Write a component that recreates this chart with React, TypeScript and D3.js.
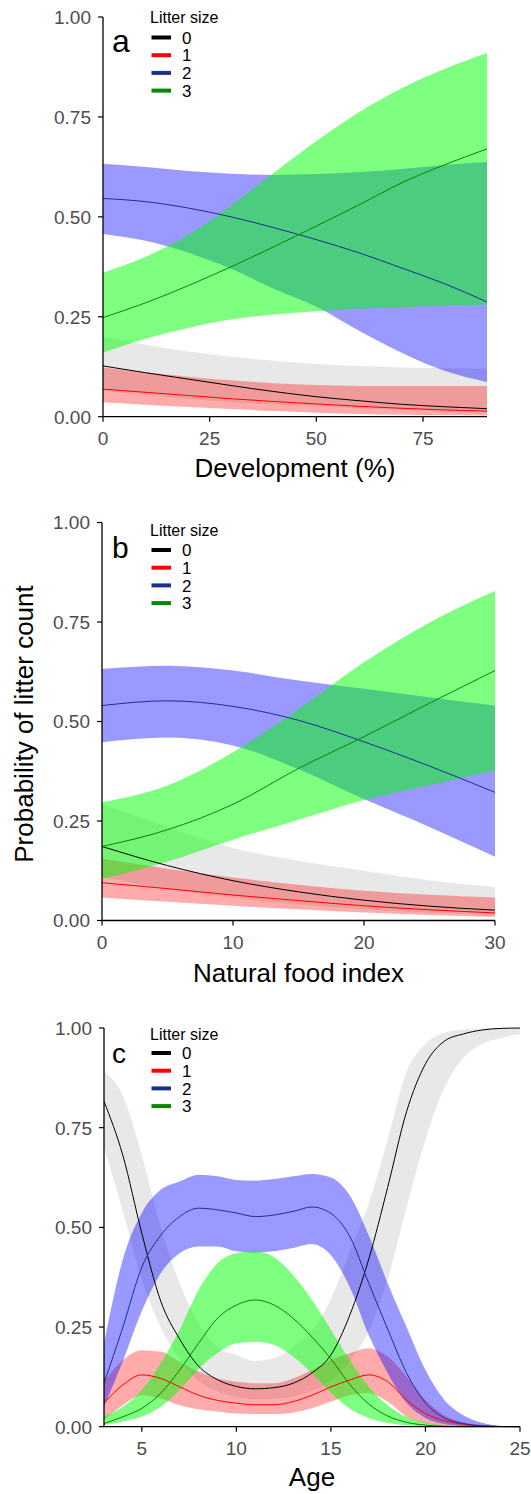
import * as d3 from 'd3'

// ---- data ----
const sizeLabels = ['0', '1', '2', '3']
const yTickValues = [0, 0.25, 0.5, 0.75, 1]

// panel a: development (%)
const devX = [0, 10, 20, 30, 40, 50, 60, 70, 80, 90]
const devFit0 = [0.127, 0.11, 0.094, 0.078, 0.063, 0.05, 0.04, 0.031, 0.025, 0.02]
const devLo0 = [0.065, 0.055, 0.045, 0.037, 0.031, 0.026, 0.021, 0.017, 0.013, 0.01]
const devHi0 = [0.2, 0.18, 0.163, 0.15, 0.14, 0.132, 0.127, 0.123, 0.121, 0.12]
const devFit1 = [0.069, 0.061, 0.053, 0.045, 0.038, 0.032, 0.026, 0.021, 0.017, 0.014]
const devLo1 = [0.036, 0.03, 0.024, 0.019, 0.014, 0.01, 0.007, 0.005, 0.004, 0.003]
const devHi1 = [0.123, 0.111, 0.1, 0.091, 0.084, 0.079, 0.077, 0.077, 0.077, 0.077]
const devFit2 = [0.546, 0.538, 0.522, 0.5, 0.473, 0.443, 0.41, 0.372, 0.333, 0.287]
const devLo2 = [0.457, 0.44, 0.41, 0.37, 0.32, 0.275, 0.215, 0.16, 0.115, 0.087]
const devHi2 = [0.633, 0.625, 0.615, 0.608, 0.605, 0.607, 0.612, 0.62, 0.63, 0.637]
const devFit3 = [0.248, 0.285, 0.328, 0.375, 0.425, 0.477, 0.53, 0.585, 0.63, 0.67]
const devLo3 = [0.16, 0.195, 0.222, 0.243, 0.256, 0.264, 0.27, 0.274, 0.278, 0.28]
const devHi3 = [0.36, 0.4, 0.455, 0.528, 0.61, 0.69, 0.762, 0.822, 0.87, 0.91]

// panel b: natural food index
const foodX = [0, 5, 10, 15, 20, 25, 30]
const foodFit0 = [0.186, 0.138, 0.1, 0.072, 0.051, 0.036, 0.026]
const foodLo0 = [0.11, 0.08, 0.057, 0.04, 0.028, 0.02, 0.014]
const foodHi0 = [0.293, 0.235, 0.182, 0.15, 0.125, 0.101, 0.084]
const foodFit1 = [0.095, 0.08, 0.064, 0.05, 0.037, 0.027, 0.019]
const foodLo1 = [0.058, 0.047, 0.037, 0.028, 0.02, 0.014, 0.009]
const foodHi1 = [0.155, 0.13, 0.108, 0.09, 0.075, 0.065, 0.058]
const foodFit2 = [0.54, 0.552, 0.538, 0.503, 0.449, 0.388, 0.322]
const foodLo2 = [0.448, 0.46, 0.44, 0.38, 0.305, 0.235, 0.16]
const foodHi2 = [0.632, 0.64, 0.628, 0.603, 0.582, 0.561, 0.54]
const foodFit3 = [0.186, 0.228, 0.292, 0.382, 0.462, 0.546, 0.628]
const foodLo3 = [0.104, 0.148, 0.203, 0.253, 0.303, 0.34, 0.377]
const foodHi3 = [0.297, 0.339, 0.423, 0.531, 0.649, 0.749, 0.828]

// panel c: age
const ageX = [3, 4, 5, 6, 7, 8, 9, 10, 11, 12, 13, 14, 15, 16, 17, 18, 19, 20, 21, 22, 23, 24, 25]
const ageFit0 = [0.816, 0.68, 0.485, 0.315, 0.22, 0.152, 0.118, 0.101, 0.095, 0.098, 0.109, 0.135, 0.18, 0.28, 0.42, 0.6, 0.79, 0.91, 0.967, 0.985, 0.995, 0.999, 1]
const ageLo0 = [0.7, 0.54, 0.37, 0.25, 0.17, 0.115, 0.088, 0.074, 0.068, 0.07, 0.076, 0.09, 0.115, 0.165, 0.24, 0.37, 0.55, 0.72, 0.85, 0.925, 0.96, 0.975, 0.985]
const ageHi0 = [0.89, 0.83, 0.68, 0.5, 0.36, 0.26, 0.2, 0.18, 0.165, 0.172, 0.2, 0.24, 0.32, 0.44, 0.56, 0.72, 0.89, 0.96, 0.988, 0.996, 0.999, 1, 1]
const ageFit1 = [0.059, 0.105, 0.13, 0.121, 0.1, 0.079, 0.066, 0.059, 0.055, 0.055, 0.063, 0.079, 0.1, 0.117, 0.13, 0.113, 0.067, 0.033, 0.015, 0.006, 0.002, 0.0005, 0]
const ageLo1 = [0.017, 0.054, 0.079, 0.071, 0.054, 0.044, 0.038, 0.033, 0.032, 0.032, 0.035, 0.046, 0.063, 0.079, 0.084, 0.063, 0.025, 0.008, 0.002, 0, 0, 0, 0]
const ageHi1 = [0.113, 0.167, 0.192, 0.188, 0.163, 0.138, 0.121, 0.113, 0.109, 0.109, 0.121, 0.142, 0.167, 0.184, 0.197, 0.176, 0.126, 0.067, 0.029, 0.011, 0.004, 0.001, 0]
const ageFit2 = [0.109, 0.25, 0.4, 0.48, 0.527, 0.548, 0.544, 0.536, 0.527, 0.531, 0.54, 0.551, 0.535, 0.477, 0.36, 0.245, 0.135, 0.06, 0.022, 0.008, 0.002, 0.0005, 0]
const ageLo2 = [0.05, 0.165, 0.29, 0.385, 0.435, 0.452, 0.452, 0.44, 0.437, 0.44, 0.448, 0.458, 0.43, 0.35, 0.23, 0.135, 0.06, 0.022, 0.007, 0.002, 0, 0, 0]
const ageHi2 = [0.209, 0.42, 0.536, 0.594, 0.615, 0.632, 0.628, 0.619, 0.617, 0.621, 0.628, 0.634, 0.625, 0.58, 0.48, 0.36, 0.25, 0.142, 0.067, 0.029, 0.01, 0.002, 0]
const ageFit3 = [0.008, 0.025, 0.046, 0.084, 0.142, 0.209, 0.272, 0.305, 0.318, 0.305, 0.272, 0.225, 0.17, 0.106, 0.057, 0.027, 0.011, 0.004, 0.001, 0, 0, 0, 0]
const ageLo3 = [0.004, 0.013, 0.025, 0.05, 0.092, 0.145, 0.184, 0.209, 0.213, 0.205, 0.176, 0.134, 0.085, 0.045, 0.022, 0.009, 0.003, 0.001, 0, 0, 0, 0, 0]
const ageHi3 = [0.025, 0.05, 0.092, 0.159, 0.243, 0.343, 0.41, 0.435, 0.44, 0.425, 0.38, 0.318, 0.243, 0.167, 0.1, 0.054, 0.025, 0.01, 0.004, 0.001, 0, 0, 0]

// ---- styles ----
const FONT = '"Liberation Sans", Arial, Helvetica, sans-serif'
const lineColors = ['#000000', '#ff0000', '#1d2f8c', '#008800']
const bandColors = ['#b3b3b3', '#ff0000', '#0000ff', '#00ff00']
const bandOpacity = [0.3, 0.33, 0.4, 0.5]
const tickGrey = '#4d4d4d'

type Row = { x: number; fit: number; lo: number; hi: number }

const panels = [
  {
    id: 'a', letterSize: 32, left: 103, right: 487, top: 17, bottom: 416.7,
    domain: [0, 90], xTicks: [0, 25, 50, 75], title: 'Development (%)', titleY: 477,
    legendTitleDy: 6, keyDy: 20.5,
    x: devX, fit: [devFit0, devFit1, devFit2, devFit3], lo: [devLo0, devLo1, devLo2, devLo3], hi: [devHi0, devHi1, devHi2, devHi3],
  },
  {
    id: 'b', letterSize: 30, left: 102, right: 495, top: 522.5, bottom: 920.5,
    domain: [0, 30], xTicks: [0, 10, 20, 30], title: 'Natural food index', titleY: 982,
    legendTitleDy: 13, keyDy: 27.5,
    x: foodX, fit: [foodFit0, foodFit1, foodFit2, foodFit3], lo: [foodLo0, foodLo1, foodLo2, foodLo3], hi: [foodHi0, foodHi1, foodHi2, foodHi3],
  },
  {
    id: 'c', letterSize: 28, left: 104, right: 520, top: 1028, bottom: 1426.7,
    domain: [3, 25], xTicks: [5, 10, 15, 20, 25], title: 'Age', titleY: 1486,
    legendTitleDy: 12, keyDy: 25,
    x: ageX, fit: [ageFit0, ageFit1, ageFit2, ageFit3], lo: [ageLo0, ageLo1, ageLo2, ageLo3], hi: [ageHi0, ageHi1, ageHi2, ageHi3],
  },
]

function Panel({ p }: { p: any }) {
  const xs = d3.scaleLinear().domain(p.domain).range([p.left, p.right])
  const ys = d3.scaleLinear().domain([0, 1]).range([p.bottom, p.top])
  const rows = (k: number): Row[] => p.x.map((x: number, i: number) => ({ x, fit: p.fit[k][i], lo: p.lo[k][i], hi: p.hi[k][i] }))
  const area = d3.area<Row>().x((d) => xs(d.x)).y0((d) => ys(d.lo)).y1((d) => ys(d.hi)).curve(d3.curveMonotoneX)
  const line = d3.line<Row>().x((d) => xs(d.x)).y((d) => ys(d.fit)).curve(d3.curveMonotoneX)
  const fmt = d3.format('.2f')
  const series = [0, 1, 2, 3]

  return (
    <g>
      {series.map((k) => (
        <path key={'band' + k} d={area(rows(k)) || ''} fill={bandColors[k]} fillOpacity={bandOpacity[k]} />
      ))}
      {series.map((k) => (
        <path key={'line' + k} d={line(rows(k)) || ''} fill="none" stroke={lineColors[k]} strokeWidth={1} />
      ))}

      {/* axes */}
      <line x1={p.left} x2={p.left} y1={ys(1)} y2={ys(0)} stroke="#000" strokeWidth={1.3} />
      <line x1={p.left} x2={p.right} y1={ys(0)} y2={ys(0)} stroke="#000" strokeWidth={1.3} />
      {yTickValues.map((v) => (
        <g key={'yt' + v}>
          <line x1={p.left - 5} x2={p.left} y1={ys(v)} y2={ys(v)} stroke="#000" strokeWidth={1.2} />
          <text x={p.left - 12} y={ys(v)} dy="0.36em" textAnchor="end" fontSize={19} fill={tickGrey} fontFamily={FONT}>
            {fmt(v)}
          </text>
        </g>
      ))}
      {p.xTicks.map((v: number) => (
        <g key={'xt' + v}>
          <line x1={xs(v)} x2={xs(v)} y1={ys(0)} y2={ys(0) + 5} stroke="#000" strokeWidth={1.2} />
          <text x={xs(v)} y={ys(0) + 28} textAnchor="middle" fontSize={19} fill={tickGrey} fontFamily={FONT}>
            {v}
          </text>
        </g>
      ))}
      <text x={(p.left + p.right) / 2} y={p.titleY} textAnchor="middle" fontSize={26} fill="#000" fontFamily={FONT}>
        {p.title}
      </text>

      {/* panel letter */}
      <text x={112} y={p.top + 35} fontSize={p.letterSize} fill="#000" fontFamily={FONT}>
        {p.id}
      </text>

      {/* legend */}
      <text x={150} y={p.top + p.legendTitleDy} fontSize={16} fill="#000" fontFamily={FONT}>
        Litter size
      </text>
      {sizeLabels.map((lab, k) => {
        const cy = p.top + p.keyDy + k * 17.7
        return (
          <g key={'lg' + k}>
            <line x1={151.5} x2={171} y1={cy} y2={cy} stroke={lineColors[k]} strokeWidth={4} />
            <text x={182} y={cy} dy="0.36em" fontSize={17} fill="#000" fontFamily={FONT}>
              {lab}
            </text>
          </g>
        )
      })}
    </g>
  )
}

export default function App() {
  return (
    <svg width={531} height={1494} style={{ position: 'absolute', left: 0, top: 0, background: '#fff' }}>
      <rect width={531} height={1494} fill="#fff" />
      {panels.map((p) => (
        <Panel key={p.id} p={p} />
      ))}
      <text
        transform="translate(33, 724) rotate(-90)"
        textAnchor="middle"
        fontSize={26}
        fill="#000"
        fontFamily={FONT}
      >
        Probability of litter count
      </text>
    </svg>
  )
}
